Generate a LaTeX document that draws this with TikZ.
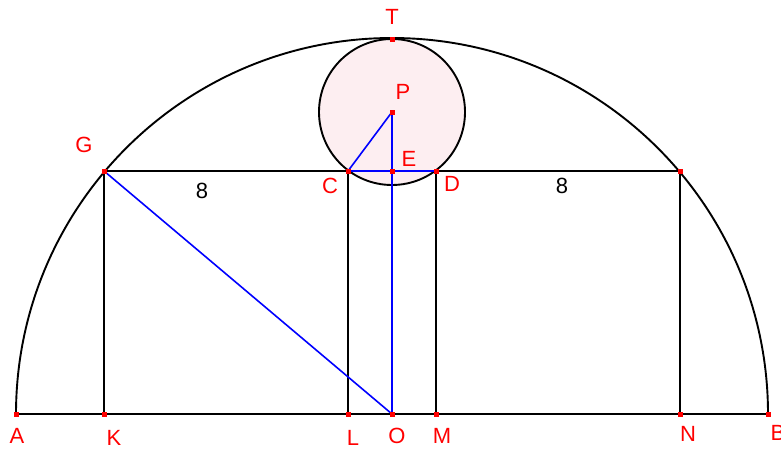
\documentclass[tikz,border=0pt]{standalone}
\usepackage{fontspec}
\setmainfont{Liberation Sans}
\begin{document}
\begin{tikzpicture}[x=1pt,y=-1pt,
  blk/.style={black,line width=1.9pt},
  blu/.style={blue,line width=1.6pt},
  pt/.style={fill=red,minimum size=5pt,inner sep=0pt,draw=none,rectangle},
  lbl/.style={red,font=\fontsize{22}{22}\selectfont,inner sep=0pt},
  num/.style={black,font=\fontsize{22}{22}\selectfont,inner sep=0pt}]
\useasboundingbox (0,0) rectangle (781,450);
\coordinate (A) at (16,414);
\coordinate (B) at (768,414);
\coordinate (O) at (392,414);
\coordinate (T) at (392,39);
\coordinate (P) at (392,112);
\coordinate (E) at (392,171);
\coordinate (C) at (348,171);
\coordinate (D) at (436,171);
\coordinate (G) at (104,171);
\coordinate (R) at (680,171);
\coordinate (K) at (104,414);
\coordinate (L) at (348,414);
\coordinate (M) at (436,414);
\coordinate (N) at (680,414);
% circle
\draw[blk,fill={rgb,255:red,253;green,238;blue,241}] (P) circle (73);
% semicircle and lines
\draw[blk] (A) arc[start angle=180,end angle=360,radius=376];
\draw[blk] (A) -- (B);
\draw[blk] (G) -- (R);
\draw[blk] (G) -- (K);
\draw[blk] (C) -- (L);
\draw[blk] (D) -- (M);
\draw[blk] (R) -- (N);
% blue
\draw[blu] (G) -- (O);
\draw[blu] (P) -- (O);
\draw[blu] (P) -- (C);
\draw[blu] (C) -- (D);
% points
\foreach \p in {A,B,O,T,P,E,C,D,G,R,K,L,M,N} \node[pt] (d\p) at (\p) {};
% labels
\node[lbl] (lT) at (392,17) {T};
\node[lbl] (lP) at (403,92) {P};
\node[lbl] (lE) at (409,159) {E};
\node[lbl] (lC) at (330,186) {C};
\node[lbl] (lD) at (452,184) {D};
\node[lbl] (lG) at (84,145) {G};
\node[lbl] (lA) at (17,436) {A};
\node[lbl] (lK) at (114,438) {K};
\node[lbl] (lL) at (353,438) {L};
\node[lbl] (lO) at (397,436) {O};
\node[lbl] (lM) at (442,436) {M};
\node[lbl] (lN) at (688,434) {N};
\node[lbl] (lB) at (778,433) {B};
\node[num] (n1) at (202,191) {8};
\node[num] (n2) at (562,186) {8};
\end{tikzpicture}
\end{document}
